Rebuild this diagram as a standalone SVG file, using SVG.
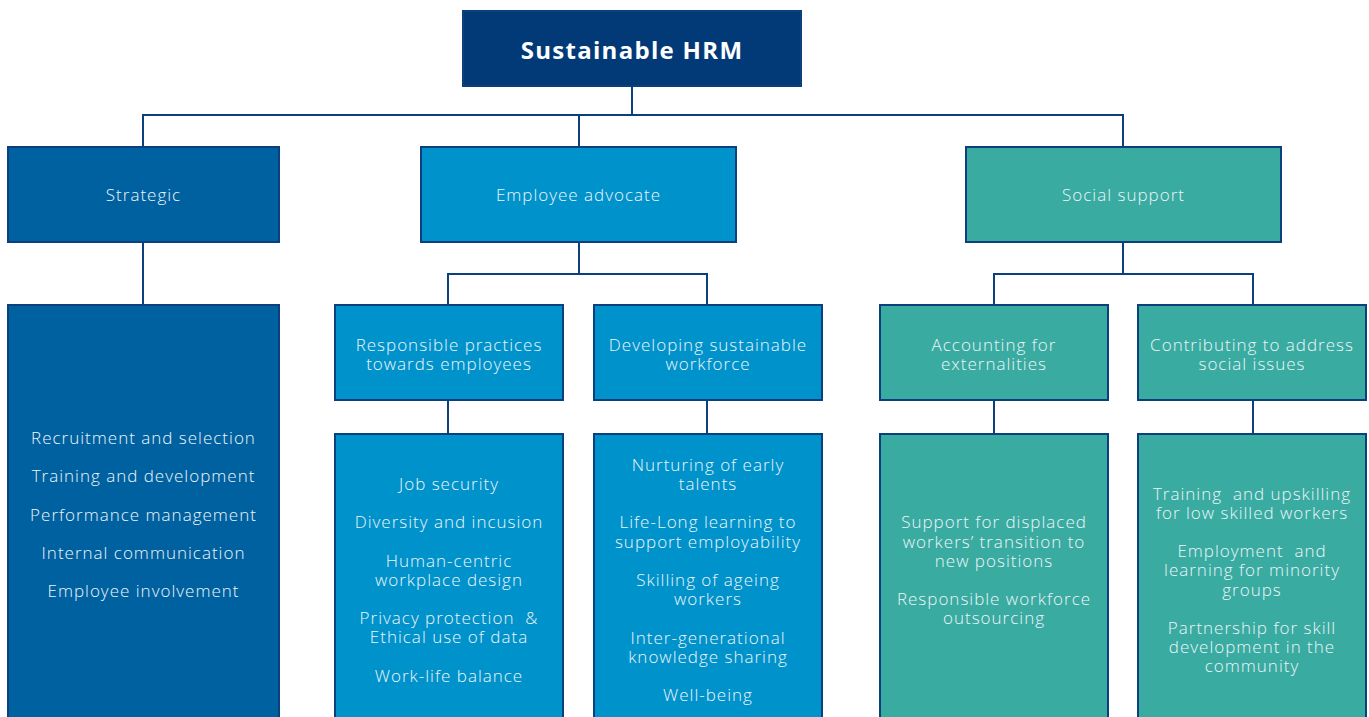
<svg xmlns="http://www.w3.org/2000/svg" width="1369" height="717" viewBox="0 0 1369 717">
  <style>
    .box { stroke: #0B3F7E; stroke-width: 2; }
    .root { fill: #023A78; }
    .strat { fill: #0061A0; }
    .adv { fill: #0092CA; }
    .soc { fill: #39ABA1; }
    .conn { stroke: #0B3F7E; stroke-width: 2; fill: none; }
    text { font-family: "Open Sans", "Liberation Sans", sans-serif; fill: #EEF5FA; text-anchor: middle; font-size: 17px; font-weight: 300; letter-spacing: 1px; }
    .title { font-size: 24px; font-weight: 700; fill: #FFFFFF; letter-spacing: 1.3px; }
  </style>
  <rect width="1369" height="717" fill="#FFFFFF"/>

  <g id="connectors">
    <path class="conn" d="M632 86 V115 M143 147 V115 H1123 V147 M579 115 V147"/>
    <path class="conn" d="M143 242 V305"/>
    <path class="conn" d="M579 242 V274 M448 305 V274 H707 V305"/>
    <path class="conn" d="M1123 242 V274 M994 305 V274 H1253 V305"/>
    <path class="conn" d="M448 400 V434 M707 400 V434 M994 400 V434 M1253 400 V434"/>
  </g>

  <g id="sustainable-hrm">
    <rect class="box root" x="463" y="11" width="338" height="75"/>
    <text class="title" x="632" y="59">Sustainable HRM</text>
  </g>

  <g id="strategic">
    <rect class="box strat" x="8" y="147" width="271" height="95"/>
    <text x="143.5" y="201">Strategic</text>
  </g>
  <g id="employee-advocate">
    <rect class="box adv" x="421" y="147" width="315" height="95"/>
    <text x="578.5" y="201">Employee advocate</text>
  </g>
  <g id="social-support">
    <rect class="box soc" x="966" y="147" width="315" height="95"/>
    <text x="1123.5" y="201">Social support</text>
  </g>

  <g id="strategic-practices">
    <rect class="box strat" x="8" y="305" width="271" height="420"/>
    <text x="143.5" y="444">Recruitment and selection</text>
    <text x="143.5" y="482">Training and development</text>
    <text x="143.5" y="521">Performance management</text>
    <text x="143.5" y="559">Internal communication</text>
    <text x="143.5" y="597">Employee involvement</text>
  </g>

  <g id="responsible-practices">
    <rect class="box adv" x="335" y="305" width="228" height="95"/>
    <text x="449" y="351">Responsible practices</text>
    <text x="449" y="370">towards employees</text>
  </g>
  <g id="developing-workforce">
    <rect class="box adv" x="594" y="305" width="228" height="95"/>
    <text x="708" y="351">Developing sustainable</text>
    <text x="708" y="370">workforce</text>
  </g>
  <g id="accounting-externalities">
    <rect class="box soc" x="880" y="305" width="228" height="95"/>
    <text x="994" y="351">Accounting for</text>
    <text x="994" y="370">externalities</text>
  </g>
  <g id="social-issues">
    <rect class="box soc" x="1138" y="305" width="228" height="95"/>
    <text x="1252" y="351">Contributing to address</text>
    <text x="1252" y="370">social issues</text>
  </g>

  <g id="responsible-items">
    <rect class="box adv" x="335" y="434" width="228" height="291"/>
    <text x="449" y="490">Job security</text>
    <text x="449" y="528">Diversity and incusion</text>
    <text x="449" y="567">Human-centric</text>
    <text x="449" y="586">workplace design</text>
    <text x="449" y="624" xml:space="preserve">Privacy protection  &amp;</text>
    <text x="449" y="643">Ethical use of data</text>
    <text x="449" y="682">Work-life balance</text>
  </g>

  <g id="developing-items">
    <rect class="box adv" x="594" y="434" width="228" height="291"/>
    <text x="708" y="471">Nurturing of early</text>
    <text x="708" y="490">talents</text>
    <text x="708" y="528">Life-Long learning to</text>
    <text x="708" y="548">support employability</text>
    <text x="708" y="586">Skilling of ageing</text>
    <text x="708" y="605">workers</text>
    <text x="708" y="644">Inter-generational</text>
    <text x="708" y="663">knowledge sharing</text>
    <text x="708" y="701">Well-being</text>
  </g>

  <g id="accounting-items">
    <rect class="box soc" x="880" y="434" width="228" height="291"/>
    <text x="994" y="528">Support for displaced</text>
    <text x="994" y="548">workers’ transition to</text>
    <text x="994" y="567">new positions</text>
    <text x="994" y="605">Responsible workforce</text>
    <text x="994" y="624">outsourcing</text>
  </g>

  <g id="social-issues-items">
    <rect class="box soc" x="1138" y="434" width="228" height="291"/>
    <text x="1252" y="500" xml:space="preserve">Training  and upskilling</text>
    <text x="1252" y="519">for low skilled workers</text>
    <text x="1252" y="557" xml:space="preserve">Employment  and</text>
    <text x="1252" y="576">learning for minority</text>
    <text x="1252" y="596">groups</text>
    <text x="1252" y="634">Partnership for skill</text>
    <text x="1252" y="653">development in the</text>
    <text x="1252" y="672">community</text>
  </g>
</svg>
